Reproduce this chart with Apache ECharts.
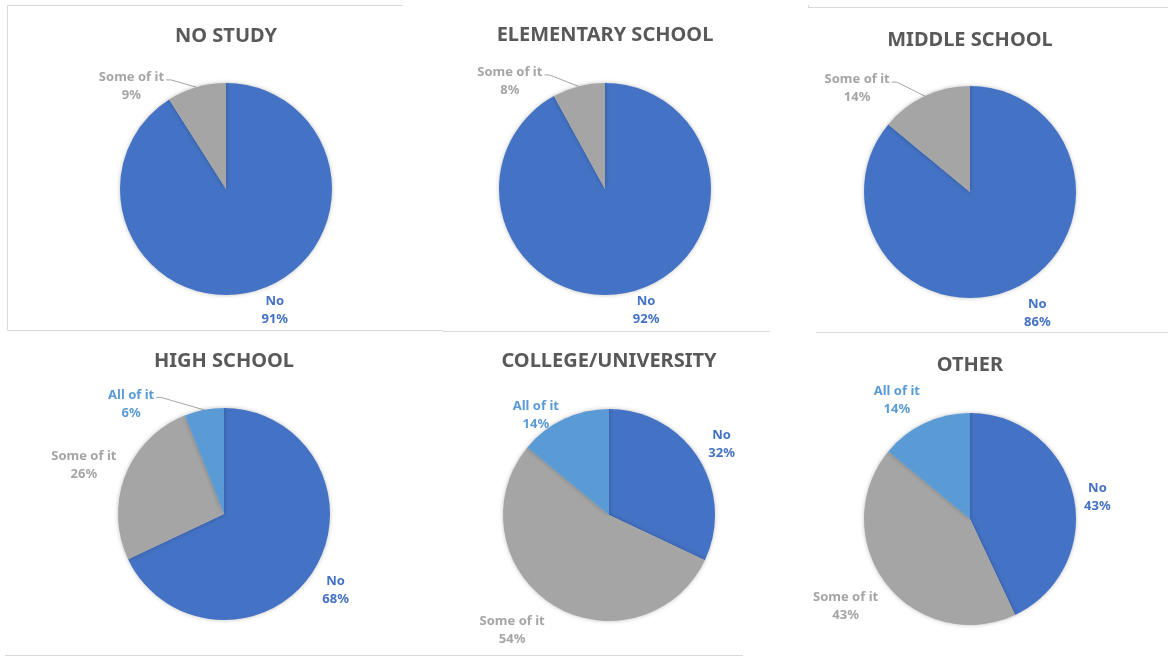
<!DOCTYPE html>
<html>
<head>
<meta charset="utf-8">
<script src="https://cdn.jsdelivr.net/npm/echarts@6/dist/echarts.min.js"></script>
<style>
html,body{margin:0;padding:0;background:#fff;}
#c{width:1168px;height:657px;}
</style>
</head>
<body>
<div id="c"></div>
<script>
// ---- data ----
const titles = ['NO STUDY', 'ELEMENTARY SCHOOL', 'MIDDLE SCHOOL', 'HIGH SCHOOL', 'COLLEGE/UNIVERSITY', 'OTHER'];
const categories = ['No', 'Some of it', 'All of it'];
const noValues = [91, 92, 86, 68, 32, 43];
const someValues = [9, 8, 14, 26, 54, 43];
const allValues = [0, 0, 0, 6, 14, 14];

// ---- layout / style ----
const centers = [[226, 189], [605, 189], [970, 192], [224, 514], [609, 515], [970, 519]];
const titleTops = [21, 20, 25, 346, 346, 350];
const leaderLabel = ['Some of it', 'Some of it', 'Some of it', 'All of it', null, null];
// per-label nudges [dx, dy] in order No, Some of it, All of it
const labelNudges = [
  [[-5, 6], [2, 4]],
  [[-9, 5], [-2, 0]],
  [[-4, 13], [0, -3]],
  [[-10, 12], [11, -5], [-16, -1]],
  [[-9, -6], [7, 14], [8, 9]],
  [[-10, 4], [10, 14], [8, -10]]
];
const colors = { 'No': '#4472C4', 'Some of it': '#A5A5A5', 'All of it': '#5B9BD5' };
const valueSets = [noValues, someValues, allValues];
const FONT = '"Noto Sans", "DejaVu Sans", sans-serif';

const chart = echarts.init(document.getElementById('c'));

function seriesNames(i) {
  return categories.filter((c, k) => valueSets[k][i] > 0);
}

const series = titles.map((t, i) => {
  const data = categories
    .map((c, k) => ({ name: c, value: valueSets[k][i] }))
    .filter(d => d.value > 0)
    .map(d => {
      const lead = leaderLabel[i] === d.name;
      const col = colors[d.name];
      return {
        name: d.name,
        value: d.value,
        itemStyle: { color: col },
        label: {
          color: col,
          rich: {
            a: { color: col, align: 'center', fontSize: 13, fontWeight: 'bold', lineHeight: 18, fontFamily: FONT }
          }
        },
        labelLine: {
          show: lead,
          length: lead ? 5 : 14,
          length2: lead ? 28 : 2,
          lineStyle: { color: '#A6A6A6', width: 1 }
        }
      };
    });
  return {
    type: 'pie',
    center: centers[i],
    radius: 106,
    startAngle: 90,
    clockwise: true,
    avoidLabelOverlap: false,
    silent: true,
    animation: false,
    itemStyle: { borderWidth: 0, shadowBlur: 4, shadowColor: 'rgba(0,0,0,0.25)' },
    label: {
      show: true,
      position: 'outside',
      fontFamily: FONT,
      fontSize: 13,
      fontWeight: 'bold',
      formatter: p => `{a|${p.name}}\n{a|${p.value}%}`
    },
    labelLayout: function (params) {
      const nudge = (labelNudges[i] && labelNudges[i][params.dataIndex]) || [0, 0];
      const dx = nudge[0], dy = nudge[1];
      const out = { dx: dx, dy: dy };
      const name = seriesNames(i)[params.dataIndex];
      if (leaderLabel[i] === name && params.labelLinePoints) {
        const r = params.labelRect;
        const start = params.labelLinePoints[0];
        const tx = r.x + dx + r.width + 2;
        const ty = r.y + dy + 9;
        out.labelLinePoints = [start, [tx + 5, ty], [tx, ty]];
      }
      return out;
    },
    data: data
  };
});

const title = titles.map((t, i) => ({
  text: t,
  left: centers[i][0],
  top: titleTops[i] + 5,
  padding: 0,
  textAlign: 'center',
  textStyle: { fontFamily: FONT, fontSize: 20, fontWeight: 'bold', color: '#595959' }
}));

const lineStyle = { stroke: '#D9D9D9', lineWidth: 1 };
const seg = (x1, y1, x2, y2) => ({ type: 'line', shape: { x1, y1, x2, y2 }, style: lineStyle, silent: true });

chart.setOption({
  backgroundColor: '#ffffff',
  animation: false,
  title: title,
  graphic: [
    seg(7.5, 5.5, 403, 5.5),
    seg(7.5, 5.5, 7.5, 330),
    seg(7.5, 330.5, 443, 330.5),
    seg(443, 331.5, 770, 331.5),
    seg(808.5, 5, 808.5, 8),
    seg(808.5, 7.5, 1168, 7.5),
    seg(816, 332.5, 1168, 332.5),
    seg(5, 655.5, 403, 655.5),
    seg(400, 655.5, 743, 655.5)
  ],
  series: series
});
</script>
</body>
</html>
